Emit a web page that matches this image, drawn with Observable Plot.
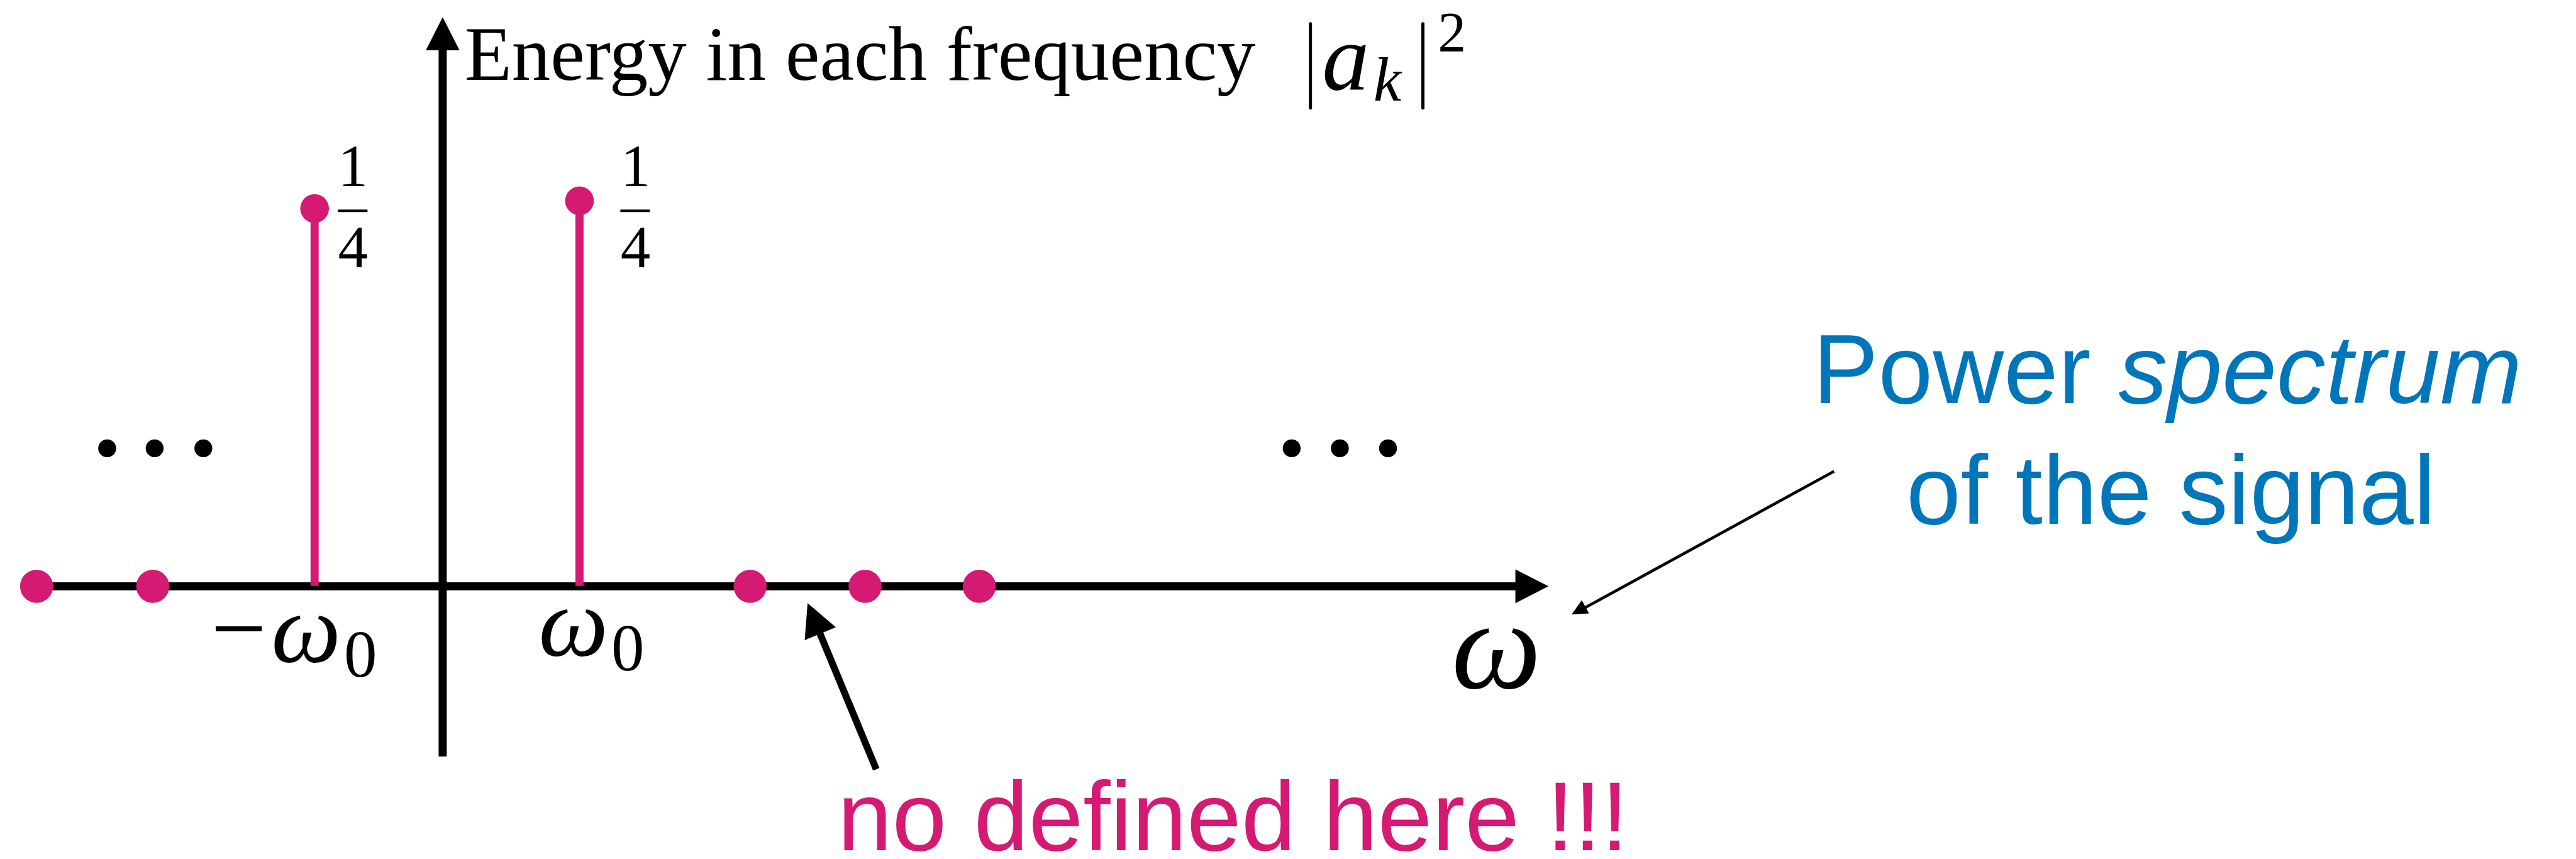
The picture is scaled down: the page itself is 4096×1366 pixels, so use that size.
<!DOCTYPE html>
<html>
<head>
<meta charset="utf-8">
<script src="https://cdn.jsdelivr.net/npm/d3@7"></script>
<script src="https://cdn.jsdelivr.net/npm/@observablehq/plot@0.6"></script>
<style>
  html, body { margin: 0; padding: 0; background: #ffffff; }
  #chart svg { display: block; }
</style>
</head>
<body>
<div id="chart"></div>
<script>
// ---------------- data (ω in units of ω0, energy |a_k|^2) ----------------
const lineFreq    = [-0.936, 1];        // the two spectral lines: −ω0 and ω0
const lineEnergy  = [0.245, 0.25];      // energy 1/4 each
const fracNum     = ["1", "1"];
const fracDen     = ["4", "4"];
const fracFreq    = [-0.655, 1.409];    // where the 1/4 labels sit
const fracEnergy  = [0.2435, 0.2435];

const tickText    = ["−ω", "ω"];
const tickSub     = ["0", "0"];
const tickFreq    = [-0.744, 1.210];
const tickEnergy  = [-0.049, -0.0446];

const undefinedFreq = [-2.968, -2.119, 2.247, 3.087, 3.922]; // points on the axis
const ellipsisFreq  = [-2.452, -2.105, -1.749, 6.205, 6.557, 6.909];
const ellipsisEnergy = 0.0895;

// axes extents
const xAxisFrom = -2.968, xAxisTip = 8.082;
const yAxisFrom = -0.1106, yAxisTip = 0.3691;

// annotation texts
const yLabel = "Energy in each frequency";
const omegaLabel = "ω";
const noteText = "no defined here !!!";
const psLine1a = "Power", psLine1b = "spectrum", psLine2 = "of the signal";

// ---------------- tables ----------------
const lines = lineFreq.map((f, i) => ({f, e: lineEnergy[i]}));
const fracs = fracFreq.map((f, i) => ({f, e: fracEnergy[i], num: fracNum[i], den: fracDen[i]}));
const ticks = tickFreq.map((f, i) => ({f, e: tickEnergy[i], t: tickText[i], s: tickSub[i]}));
const undef = undefinedFreq.map(f => ({f, e: 0}));
const dots3 = ellipsisFreq.map(f => ({f, e: ellipsisEnergy}));

const PINK = "#D41A72", BLUE = "#0076BA";
const SERIF = "Liberation Serif", SANS = "Liberation Sans";

// filled arrowhead symbol, tip at the anchor point, rotated clockwise from "up"
function head(L, W, deg) {
  const t = deg * Math.PI / 180, c = Math.cos(t), s = Math.sin(t);
  const r = (x, y) => [x * c - y * s, x * s + y * c];
  return {draw(ctx) {
    const a = r(-W, L), b = r(W, L);
    ctx.moveTo(0, 0); ctx.lineTo(a[0], a[1]); ctx.lineTo(b[0], b[1]); ctx.closePath();
  }};
}

const chart = Plot.plot({
  width: 4096,
  height: 1366,
  margin: 0,
  style: {background: "#ffffff", overflow: "visible"},
  x: {domain: [-3.2329, 15.5936], range: [0, 4096], axis: null},
  y: {domain: [-0.17707, 0.38006], range: [1366, 0], axis: null},
  marks: [
    // horizontal axis
    Plot.ruleY([0], {x1: xAxisFrom, x2: xAxisTip - 0.15, stroke: "black", strokeWidth: 12.9}),
    Plot.dot([{f: xAxisTip, e: 0}], {x: "f", y: "e", r: 1, symbol: head(52.7, 26.8, 90), fill: "black", stroke: "none"}),
    // vertical axis
    Plot.ruleX([0], {y1: yAxisFrom, y2: yAxisTip - 0.013, stroke: "black", strokeWidth: 12.9}),
    Plot.dot([{f: 0, e: yAxisTip}], {x: "f", y: "e", r: 1, symbol: head(52.7, 26.8, 0), fill: "black", stroke: "none"}),
    // spectral lines
    Plot.ruleX(lines, {x: "f", y1: 0, y2: "e", stroke: PINK, strokeWidth: 12.9}),
    Plot.dot(lines, {x: "f", y: "e", r: 22.8, fill: PINK, stroke: "none"}),
    // undefined points on the axis
    Plot.dot(undef, {x: "f", y: "e", r: 26.3, fill: PINK, stroke: "none"}),
    // ellipses
    Plot.dot(dots3, {x: "f", y: "e", r: 14.2, fill: "black", stroke: "none"}),
    // fractions 1/4
    Plot.ruleY(fracs, {y: "e", x1: d => d.f - 0.108, x2: d => d.f + 0.108, stroke: "black", strokeWidth: 4}),
    Plot.text(fracs, {x: "f", y: "e", text: "num", dy: -39, lineAnchor: "bottom", fontFamily: SERIF, fontSize: 95, fill: "black"}),
    Plot.text(fracs, {x: "f", y: "e", text: "den", dy: 90, lineAnchor: "bottom", fontFamily: SERIF, fontSize: 95, fill: "black"}),
    // tick labels −ω0, ω0
    Plot.text(ticks, {x: "f", y: "e", text: "t", textAnchor: "end", lineAnchor: "bottom", fontFamily: SERIF, fontStyle: "italic", fontSize: 157, fill: "black"}),
    Plot.text(ticks, {x: "f", y: "e", text: "s", dx: 5, dy: 24, textAnchor: "start", lineAnchor: "bottom", fontFamily: SERIF, fontSize: 105, fill: "black"}),
    // ω axis label
    Plot.text([omegaLabel], {x: 7.701, y: -0.066, text: d => d, lineAnchor: "bottom", fontFamily: SERIF, fontStyle: "italic", fontSize: 202, fill: "black"}),
    // y label: Energy in each frequency |a_k|^2
    Plot.text([yLabel], {x: 0.160, y: 0.3286, text: d => d, textAnchor: "start", lineAnchor: "bottom", fontFamily: SERIF, fontSize: 123, fill: "black"}),
    Plot.ruleX([6.342, 7.164], {x: d => d, y1: 0.3100, y2: 0.3647, stroke: "black", strokeWidth: 5, strokeLinecap: "round"}),
    Plot.text(["a"], {x: 6.600, y: 0.3225, text: d => d, lineAnchor: "bottom", fontFamily: SERIF, fontStyle: "italic", fontSize: 150, fill: "black"}),
    Plot.text(["k"], {x: 6.904, y: 0.3152, text: d => d, lineAnchor: "bottom", fontFamily: SERIF, fontStyle: "italic", fontSize: 100, fill: "black"}),
    Plot.text(["2"], {x: 7.377, y: 0.3468, text: d => d, lineAnchor: "bottom", fontFamily: SERIF, fontSize: 90, fill: "black"}),
    // "no defined here !!!" arrow and note
    Plot.link([{x1: 3.169, y1: -0.1187, x2: 2.713, y2: -0.0211}], {x1: "x1", y1: "y1", x2: "x2", y2: "y2", stroke: "black", strokeWidth: 11}),
    Plot.dot([{f: 2.667, e: -0.0109}], {x: "f", y: "e", r: 1, symbol: head(52.7, 26.8, -22.5), fill: "black", stroke: "none"}),
    Plot.text([noteText], {x: 2.886, y: -0.1710, text: d => d, textAnchor: "start", lineAnchor: "bottom", fontFamily: SANS, fontSize: 156, fill: PINK}),
    // Power spectrum annotation
    Plot.text([psLine1a], {x: 10.014, y: 0.1187, text: d => d, textAnchor: "start", lineAnchor: "bottom", fontFamily: SANS, fontSize: 156, fill: BLUE}),
    Plot.text([psLine1b], {x: 12.247, y: 0.1187, text: d => d, textAnchor: "start", lineAnchor: "bottom", fontFamily: SANS, fontStyle: "italic", fontSize: 156, fill: BLUE}),
    Plot.text([psLine2], {x: 12.630, y: 0.0405, text: d => d, textAnchor: "middle", lineAnchor: "bottom", fontFamily: SANS, fontSize: 156, fill: BLUE}),
    Plot.link([{x1: 10.169, y1: 0.0746, x2: 8.301, y2: -0.0162}], {x1: "x1", y1: "y1", x2: "x2", y2: "y2", stroke: "black", strokeWidth: 4.5}),
    Plot.dot([{f: 8.251, e: -0.0182}], {x: "f", y: "e", r: 1, symbol: head(25, 12, -118.6), fill: "black", stroke: "none"})
  ]
});
document.getElementById("chart").appendChild(chart);
</script>
</body>
</html>
